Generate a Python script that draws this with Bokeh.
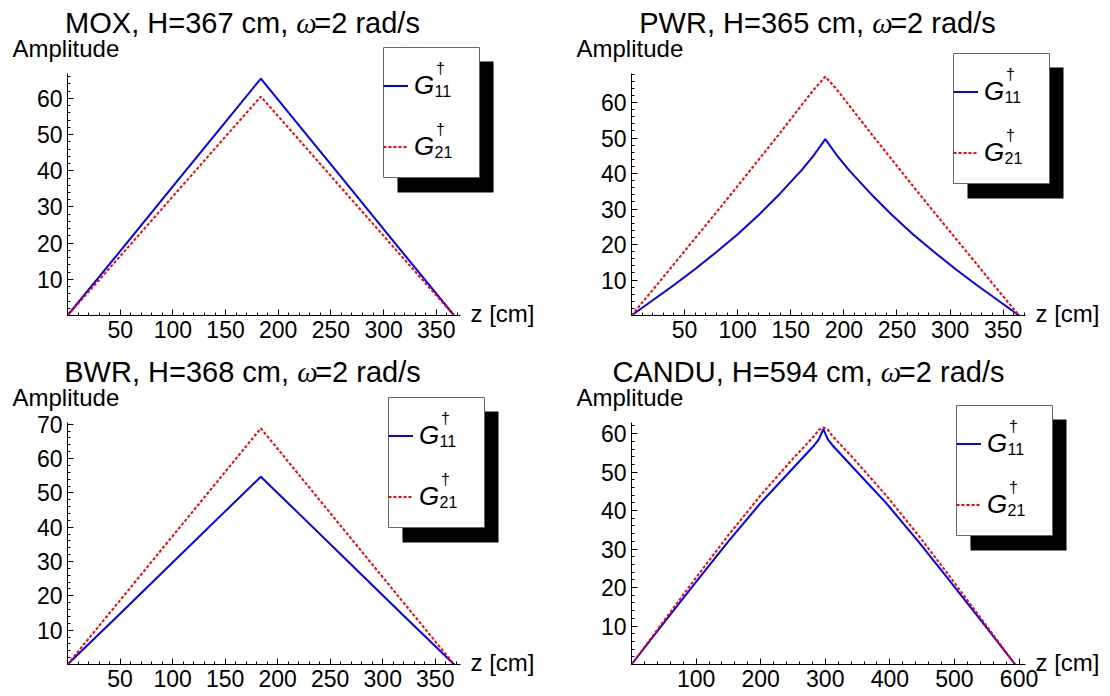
from bokeh.plotting import figure
from bokeh.models import FixedTicker, Legend, LegendItem, Label, BoxAnnotation, Range1d
from bokeh.layouts import gridplot
from bokeh.embed import file_html
from bokeh.resources import INLINE

FONT = "Liberation Sans"
SERIF = "Liberation Serif"

# ---------------- data ----------------
reactors = ["MOX", "PWR", "BWR", "CANDU"]
heights = [367, 365, 368, 594]

z_mox = [0, 50, 100, 150, 183.5, 217, 267, 317, 367]
g11_mox = [0, 17.8, 35.7, 53.5, 65.5, 53.5, 35.7, 17.8, 0]
g21_mox = [0, 16.4, 32.9, 49.5, 60.5, 49.5, 32.9, 16.4, 0]

z_pwr = [0, 20, 40, 60, 80, 100, 120, 140, 160, 172, 182.5,
         193, 205, 225, 245, 265, 285, 305, 325, 345, 365]
g11_pwr = [0, 4.3, 8.6, 13.1, 17.9, 22.9, 28.4, 34.4, 40.9, 45.3, 49.7,
           45.3, 40.9, 34.4, 28.4, 22.9, 17.9, 13.1, 8.6, 4.3, 0]
g21_pwr = [0, 7.2, 14.5, 21.8, 29.1, 36.5, 44.0, 51.5, 59.2, 63.8, 67.3,
           63.8, 59.2, 51.5, 44.0, 36.5, 29.1, 21.8, 14.5, 7.2, 0]

z_bwr = [0, 50, 100, 150, 184, 218, 268, 318, 368]
g11_bwr = [0, 14.8, 29.7, 44.6, 54.7, 44.6, 29.7, 14.8, 0]
g21_bwr = [0, 18.7, 37.4, 56.1, 68.8, 56.1, 37.4, 18.7, 0]

z_candu = [0, 50, 100, 150, 200, 250, 283, 290, 297, 304, 311, 344, 394, 444, 494, 544, 594]
g11_candu = [0, 10.8, 21.5, 32.0, 42.0, 51.0, 57.0, 58.5, 61.2, 58.5, 57.0, 51.0, 42.0, 32.0, 21.5, 10.8, 0]
g21_candu = [0, 11.3, 22.6, 33.6, 44.0, 53.5, 59.4, 61.0, 61.6, 61.0, 59.4, 53.5, 44.0, 33.6, 22.6, 11.3, 0]

x_major = [list(range(50, 351, 50)), list(range(50, 351, 50)),
           list(range(50, 351, 50)), list(range(100, 601, 100))]
x_minor_step = [10, 10, 10, 20]
x_max = [373, 371, 374, 610]
y_max = [66.9, 68.2, 70.5, 62.9]
y_major = [list(range(10, 61, 10)), list(range(10, 61, 10)),
           list(range(10, 71, 10)), list(range(10, 61, 10))]

series = [(z_mox, g11_mox, g21_mox), (z_pwr, g11_pwr, g21_pwr),
          (z_bwr, g11_bwr, g21_bwr), (z_candu, g11_candu, g21_candu)]

# ---------------- layout (positions in each 555x348 canvas) ----------------
W, H = 555, 348
# (origin x from left, origin y from bottom, data-area width, data-area height)
boxes = [(67, 33, 393, 242), (631 - 555, 33, 394, 242),
         (67, 32, 393, 242), (631 - 555, 32, 394, 242)]
title_dx = [175, 186, 175, 177]
legend_rel = [(316, 138), (322, 132), (321, 137), (325, 129)]

# Arial / Liberation Sans advance widths (em) for the title characters
ADV = {"M": .833, "O": .778, "X": .667, ",": .278, " ": .278, "H": .722, "=": .584,
       "c": .5, "m": .833, "P": .667, "W": .944, "R": .722, "B": .667, "C": .722,
       "A": .667, "N": .722, "D": .722, "U": .722, "r": .333, "a": .556, "d": .556,
       "/": .278, "s": .5}
for ch in "0123456789":
    ADV[ch] = .556
OMEGA_W = 0.62


def text_w(s, fs):
    return sum(ADV.get(c, .556) for c in s) * fs


def screen_box(left, right, bottom, top, **kw):
    return BoxAnnotation(left=left, right=right, bottom=bottom, top=top,
                         left_units="screen", right_units="screen",
                         bottom_units="screen", top_units="screen", **kw)


def slabel(x, y, text, size, align="left", baseline="middle", font=FONT, style="normal"):
    return Label(x=x, y=y, x_units="screen", y_units="screen", text=text,
                 text_align=align, text_baseline=baseline, text_font=font,
                 text_font_size=size, text_font_style=style, text_color="black")


def make_panel(i):
    ox, oy, fw, fh = boxes[i]
    sx = fw / x_max[i]
    sy = fh / y_max[i]
    xr = Range1d(-ox / sx, x_max[i] + (W - ox - fw) / sx)
    yr = Range1d(-oy / sy, y_max[i] + (H - oy - fh) / sy)
    p = figure(width=W, height=H, output_backend="svg", toolbar_location=None,
               x_range=xr, y_range=yr, min_border=0,
               min_border_left=0, min_border_right=0, min_border_top=0,
               min_border_bottom=0)
    p.outline_line_color = None
    p.grid.visible = False
    p.background_fill_color = "white"
    p.border_fill_color = "white"

    step = x_minor_step[i]
    p.xaxis.ticker = FixedTicker(ticks=x_major[i],
                                 minor_ticks=list(range(step, int(x_max[i]) + 1, step)))
    p.yaxis.ticker = FixedTicker(ticks=y_major[i],
                                 minor_ticks=list(range(2, int(y_max[i]) + 1, 2)))
    p.xaxis.fixed_location = 0
    p.yaxis.fixed_location = 0
    p.xaxis.bounds = (0, x_max[i])
    p.yaxis.bounds = (0, y_max[i])
    for ax in (p.xaxis[0], p.yaxis[0]):
        ax.major_tick_in = 6
        ax.major_tick_out = 0
        ax.minor_tick_in = 3
        ax.minor_tick_out = 0
        ax.axis_line_color = "black"
        ax.major_tick_line_color = "black"
        ax.minor_tick_line_color = "black"
        ax.major_label_text_font = FONT
        ax.major_label_text_font_size = "23px"
        ax.major_label_text_color = "black"
        ax.major_label_standoff = 5

    z, g11, g21 = series[i]
    r1 = p.line(z, g11, line_color="#0000ff", line_width=2)
    r2 = p.line(z, g21, line_color="#ff0000", line_width=2, line_dash="3 2")

    # title: "<REACTOR>, H=<h> cm, " + italic omega + "=2 rad/s"
    fs = 29
    pre = f"{reactors[i]}, H={heights[i]} cm,"
    pre_adv = text_w(pre + " ", fs)
    post = "=2 rad/s"
    total = pre_adv + OMEGA_W * fs + text_w(post, fs)
    left = ox + title_dx[i] - total / 2
    ty = oy + fh + 51
    p.add_layout(slabel(left, ty, pre, f"{fs}px", baseline="alphabetic"))
    p.add_layout(slabel(left + pre_adv, ty, "\u03c9", f"{fs}px", baseline="alphabetic",
                        font=SERIF, style="italic"))
    p.add_layout(slabel(left + pre_adv + OMEGA_W * fs, ty, post, f"{fs}px",
                        baseline="alphabetic"))

    p.add_layout(slabel(ox - 55, oy + fh + 25, "Amplitude", "24px"))
    p.add_layout(slabel(ox + fw + 10, oy + 2, "z [cm]", "24px"))

    # legend: drop shadow, white framed box, then transparent legend on top
    L, B = ox + legend_rel[i][0], oy + legend_rel[i][1]
    p.add_layout(screen_box(L + 14, L + 110, B - 15, B + 116,
                            fill_color="black", fill_alpha=1.0, line_color=None))
    p.add_layout(screen_box(L, L + 96, B, B + 130,
                            fill_color="white", fill_alpha=1.0,
                            line_color="#666666", line_width=1, line_alpha=1.0))
    legend = Legend(items=[LegendItem(label="G", renderers=[r1]),
                           LegendItem(label="G", renderers=[r2])],
                    location=(L, B), orientation="vertical", padding=4, spacing=0,
                    margin=0, glyph_width=25, glyph_height=61, label_height=61,
                    label_width=60, label_standoff=6, label_text_font=FONT,
                    label_text_font_size="26px", label_text_font_style="italic",
                    label_text_color="black", border_line_color=None,
                    background_fill_alpha=0.0)
    p.add_layout(legend, "center")
    for k, sub in enumerate(["11", "21"]):
        yc = B + 130 - 4 - 30.5 - k * 61
        p.add_layout(slabel(L + 51, yc - 9, sub, "16px"))
        p.add_layout(slabel(L + 57, yc + 14, "\u2020", "16px", align="center"))
    return p


plots = [make_panel(i) for i in range(4)]
grid = gridplot([[plots[0], plots[1]], [plots[2], plots[3]]], toolbar_location=None)

open("out.html", "w").write(file_html(grid, INLINE))
